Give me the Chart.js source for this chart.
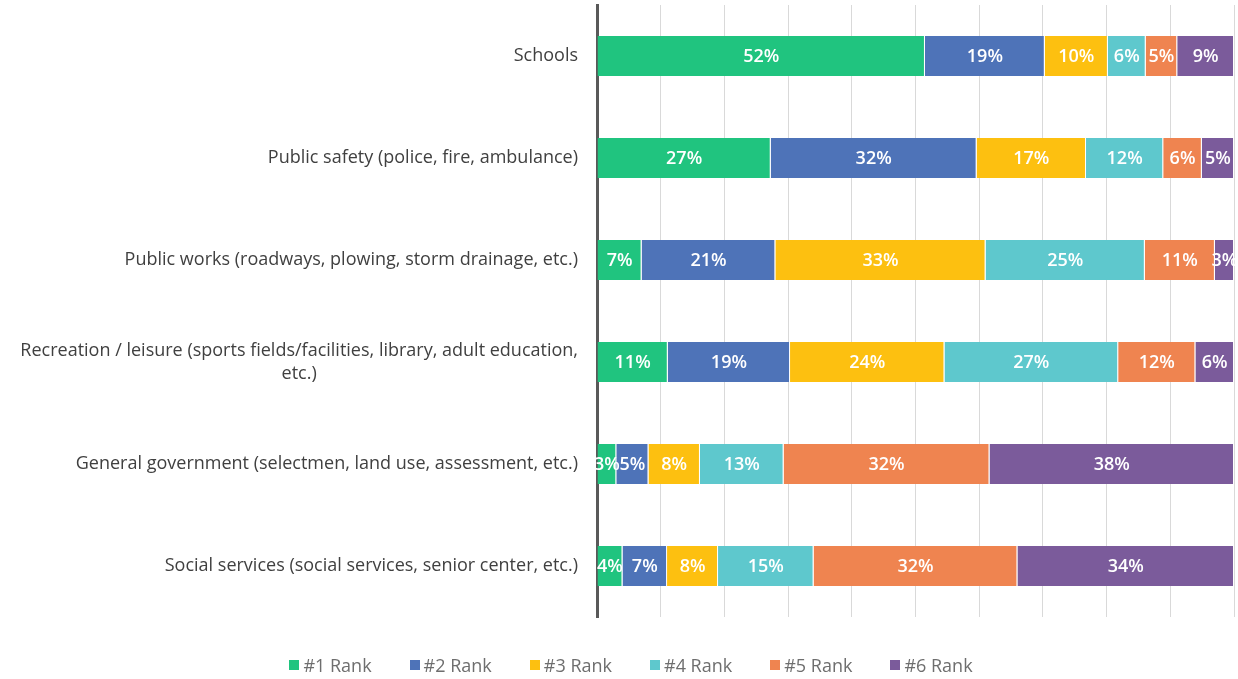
<!DOCTYPE html>
<html>
<head>
<meta charset="utf-8">
<script src="https://cdn.jsdelivr.net/npm/chart.js@4"></script>
<style>
  html, body { margin: 0; padding: 0; background: #fff; }
  #wrap { position: relative; width: 1238px; height: 679px; }
  #legend {
    position: absolute; left: 0; right: 0; top: 653px; padding-left: 24px;
    display: flex; justify-content: center; gap: 38px;
    font-family: "Open Sans", sans-serif; font-size: 18px; color: #6e6e6e;
  }
  #legend span.item { display: flex; align-items: center; }
  #legend i { display: inline-block; width: 10px; height: 10px; margin-right: 4px; }
</style>
</head>
<body>
<div id="wrap">
  <canvas id="rankChart" width="1238" height="679"></canvas>
  <div id="legend"></div>
</div>
<script>
// Services being ranked (bottom row last)
const categories = [
    'Schools',
    'Public safety (police, fire, ambulance)',
    'Public works (roadways, plowing, storm drainage, etc.)',
    ['Recreation / leisure (sports fields/facilities, library, adult education,', 'etc.)'],
    'General government (selectmen, land use, assessment, etc.)',
    'Social services (social services, senior center, etc.)'
];

// Share of respondents giving each rank (%)
const rank1 = [52, 27, 7, 11, 3, 4];
const rank2 = [19, 32, 21, 19, 5, 7];
const rank3 = [10, 17, 33, 24, 8, 8];
const rank4 = [6, 12, 25, 27, 13, 15];
const rank5 = [5, 6, 11, 12, 32, 32];
const rank6 = [9, 5, 3, 6, 38, 34];

const seriesNames = ['#1 Rank', '#2 Rank', '#3 Rank', '#4 Rank', '#5 Rank', '#6 Rank'];
const seriesColors = ['#20c47f', '#4e73b8', '#fdc010', '#5ec8cd', '#ef8450', '#7b5b9b'];

const allSeries = [rank1, rank2, rank3, rank4, rank5, rank6];

// 100% stacked: each row is scaled by its own total (rounded values don't always add to 100)
const rowTotals = categories.map((_, j) => allSeries.reduce((sum, s) => sum + s[j], 0));

// Draw the % values in the middle of each segment
const segmentLabels = {
    id: 'segmentLabels',
    afterDatasetsDraw(chart) {
        const ctx = chart.ctx;
        ctx.save();
        ctx.font = '600 18px "Open Sans", sans-serif';
        ctx.fillStyle = '#ffffff';
        ctx.textAlign = 'center';
        ctx.textBaseline = 'middle';
        chart.data.datasets.forEach((ds, i) => {
            const meta = chart.getDatasetMeta(i);
            meta.data.forEach((bar, j) => {
                const cx = (bar.base + bar.x) / 2;
                ctx.fillText(allSeries[i][j] + '%', cx, bar.y + 1);
            });
        });
        ctx.restore();
    }
};

// Category names: right aligned next to the axis, wrapped lines centred on each other
const categoryLabels = {
    id: 'categoryLabels',
    afterDraw(chart) {
        const ctx = chart.ctx;
        const yScale = chart.scales.y;
        const rightEdge = yScale.right - 19;
        const lineH = 23;
        ctx.save();
        ctx.font = '18px "Open Sans", sans-serif';
        ctx.fillStyle = '#404040';
        ctx.textAlign = 'center';
        ctx.textBaseline = 'middle';
        chart.data.labels.forEach((label, i) => {
            const lines = Array.isArray(label) ? label : [label];
            const maxW = Math.max(...lines.map(l => ctx.measureText(l).width));
            const cy = yScale.getPixelForTick(i);
            const startY = cy - (lines.length - 1) * lineH / 2;
            lines.forEach((line, k) => {
                ctx.fillText(line, rightEdge - maxW / 2, startY + k * lineH);
            });
        });
        ctx.restore();
    }
};

const ctx = document.getElementById('rankChart').getContext('2d');
const chart = new Chart(ctx, {
    type: 'bar',
    data: {
        labels: categories,
        datasets: allSeries.map((values, i) => ({
            label: seriesNames[i],
            data: values.map((v, j) => v / rowTotals[j] * 100),
            backgroundColor: seriesColors[i],
            borderColor: 'rgba(255,255,255,0.7)',
            borderWidth: { right: 1 },
            borderSkipped: 'start',
            barPercentage: 0.49,
            categoryPercentage: 0.8
        }))
    },
    options: {
        indexAxis: 'y',
        responsive: false,
        animation: false,
        layout: { padding: { top: 5, right: 4, left: 0, bottom: 0 } },
        plugins: {
            legend: { display: false },
            tooltip: { enabled: false }
        },
        scales: {
            x: {
                stacked: true,
                min: 0,
                max: 100,
                ticks: { display: false, stepSize: 10 },
                grid: { color: '#d9d9d9', drawTicks: false },
                border: { display: false },
                afterFit(scale) { scale.height = 62; }
            },
            y: {
                stacked: true,
                ticks: { display: false },
                grid: { display: false, drawTicks: false },
                border: { display: true, color: '#595959', width: 3 },
                afterFit(scale) { scale.width = 597; }
            }
        }
    },
    plugins: [segmentLabels, categoryLabels]
});

// Legend below the chart
const legendEl = document.getElementById('legend');
chart.data.datasets.forEach(ds => {
    const item = document.createElement('span');
    item.className = 'item';
    const box = document.createElement('i');
    box.style.background = ds.backgroundColor;
    item.appendChild(box);
    item.appendChild(document.createTextNode(ds.label));
    legendEl.appendChild(item);
});
</script>
</body>
</html>
